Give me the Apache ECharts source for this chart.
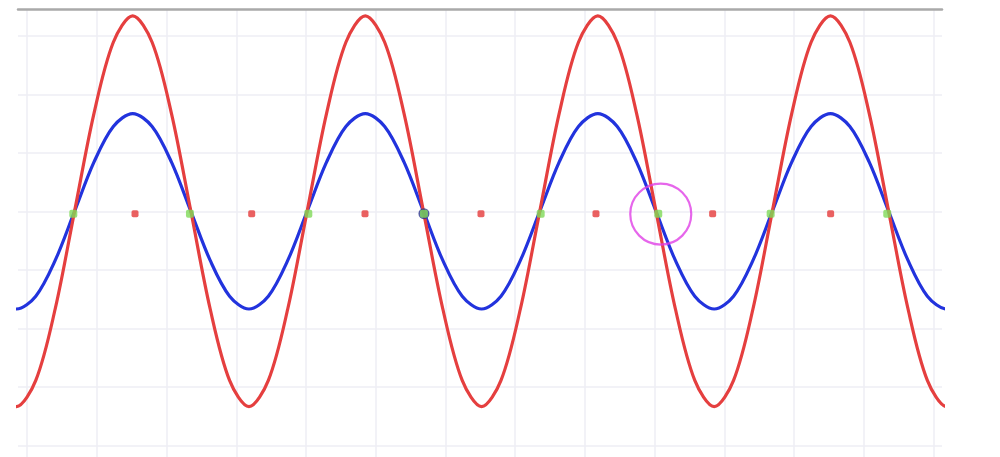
<!DOCTYPE html>
<html>
<head>
<meta charset="utf-8">
<script src="https://cdn.jsdelivr.net/npm/echarts@6/dist/echarts.min.js"></script>
<style>
html,body{margin:0;padding:0;background:#fff;}
#chart{width:1000px;height:457px;}
</style>
</head>
<body>
<div id="chart"></div>
<script>
// Sample positions along the x axis (grid-column units)
const xs = [-0.431, -0.153, 0.125, 0.403, 0.681, 0.959, 1.237, 1.515, 1.793, 2.071, 2.349, 2.626, 2.904,
  3.182, 3.460, 3.738, 4.016, 4.294, 4.572, 4.850, 5.128, 5.406, 5.684, 5.962, 6.240,
  6.518, 6.796, 7.074, 7.352, 7.630, 7.907, 8.185, 8.463, 8.741, 9.019, 9.297, 9.575,
  9.853, 10.131, 10.409, 10.687, 10.965, 11.243, 11.521, 11.799, 12.077, 12.355, 12.633, 12.910, 13.188, 13.466];
// Red curve values
const redY = [-2.89, -3.34, -2.89, -1.67,
  0, 1.67, 2.89, 3.34, 2.89, 1.67, 0, -1.67, -2.89, -3.34, -2.89, -1.67,
  0, 1.67, 2.89, 3.34, 2.89, 1.67, 0, -1.67, -2.89, -3.34, -2.89, -1.67,
  0, 1.67, 2.89, 3.34, 2.89, 1.67, 0, -1.67, -2.89, -3.34, -2.89, -1.67,
  0, 1.67, 2.89, 3.34, 2.89, 1.67, 0, -1.67, -2.89, -3.34, -2.89];
// Blue curve values
const blueY = [-1.45, -1.67, -1.45, -0.84,
  0, 0.84, 1.45, 1.67, 1.45, 0.84, 0, -0.84, -1.45, -1.67, -1.45, -0.84,
  0, 0.84, 1.45, 1.67, 1.45, 0.84, 0, -0.84, -1.45, -1.67, -1.45, -0.84,
  0, 0.84, 1.45, 1.67, 1.45, 0.84, 0, -0.84, -1.45, -1.67, -1.45, -0.84,
  0, 0.84, 1.45, 1.67, 1.45, 0.84, 0, -0.84, -1.45, -1.67, -1.45];
// Green crossing markers
const crossX = [0.663, 2.336, 4.033, 5.691, 7.365, 9.051, 10.663, 12.335];
const crossY = [-0.04, -0.04, -0.04, -0.04, -0.04, -0.04, -0.04, -0.04];
// Red midpoint markers
const midX = [1.548, 3.221, 4.846, 6.509, 8.158, 9.831, 11.523];
const midY = [-0.04, -0.04, -0.04, -0.04, -0.04, -0.04, -0.04];
// Dark ring under one crossing marker
const ringX = [5.691];
const ringY = [-0.04];
// Highlight circle
const circleX = [9.087];
const circleY = [-0.047];
// Axis ranges
const xRange = [-0.13, 13.12];
const yRange = [-4.2, 3.45];

const pairs = (a, b) => a.map((v, i) => [v, b[i]]);
const chart = echarts.init(document.getElementById('chart'), null, {renderer: 'canvas'});
chart.setOption({
  animation: false,
  backgroundColor: '#ffffff',
  grid: {left: 18, right: 58, top: 9.5, bottom: 0, containLabel: false, outerBoundsMode: 'none'},
  xAxis: {
    type: 'value', position: 'top', min: xRange[0], max: xRange[1],
    minInterval: 1, maxInterval: 1,
    axisLine: {show: true, onZero: false, lineStyle: {color: '#a9a9a9', width: 2.5}},
    axisTick: {show: false}, axisLabel: {show: false},
    splitLine: {show: true, showMinLine: false, showMaxLine: false, lineStyle: {color: '#eeeef4', width: 1.5}}
  },
  yAxis: {
    type: 'value', min: yRange[0], max: yRange[1],
    minInterval: 1, maxInterval: 1,
    axisLine: {show: false}, axisTick: {show: false}, axisLabel: {show: false},
    splitLine: {show: true, showMinLine: false, showMaxLine: false, lineStyle: {color: '#eeeef4', width: 1.5}}
  },
  series: [
    {type: 'line', data: pairs(xs, blueY), smooth: 0.33, showSymbol: false, symbol: 'none',
      lineStyle: {color: '#2233dd', width: 3.2}, z: 2},
    {type: 'line', data: pairs(xs, redY), smooth: 0.33, showSymbol: false, symbol: 'none',
      lineStyle: {color: '#e53f3f', width: 3.2}, z: 3},
    {type: 'scatter', data: pairs(midX, midY), symbol: 'roundRect', symbolSize: 7,
      itemStyle: {color: '#e53a3a'}, z: 4},
    {type: 'scatter', data: pairs(ringX, ringY), symbol: 'circle', symbolSize: 11,
      itemStyle: {color: '#2a2f8f'}, z: 4},
    {type: 'scatter', data: pairs(crossX, crossY), symbol: 'roundRect', symbolSize: 8,
      itemStyle: {color: '#7fd957'}, z: 5},
    {type: 'scatter', data: pairs(circleX, circleY), symbol: 'circle', symbolSize: 61,
      itemStyle: {color: 'rgba(0,0,0,0)', borderColor: '#e040e6', borderWidth: 2.2}, z: 6}
  ]
});
</script>
</body>
</html>
